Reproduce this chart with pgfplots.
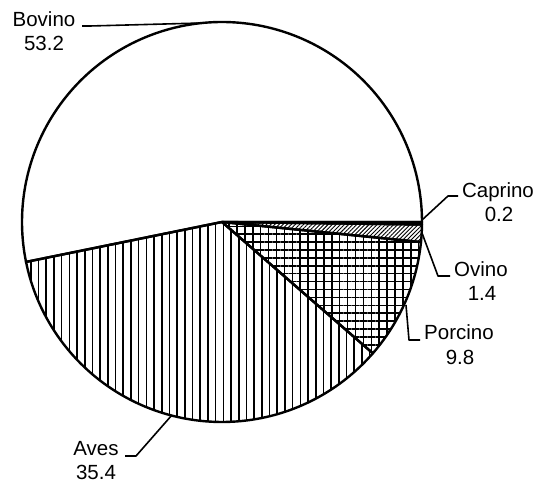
\documentclass[border=0pt]{standalone}
\usepackage{pgfplots}
\pgfplotsset{compat=1.18}
\usepackage{fontspec}
\setmainfont{Liberation Sans}
\usetikzlibrary{patterns.meta}
\begin{document}
\begin{tikzpicture}[
  lab/.style={font=\fontsize{20.5}{24}\selectfont,anchor=base,inner sep=0pt},
  lead/.style={line width=1.6pt,draw=black}]
% data (percent)
\pgfmathsetmacro{\vBov}{53.2}
\pgfmathsetmacro{\vAve}{35.4}
\pgfmathsetmacro{\vPor}{9.8}
\pgfmathsetmacro{\vOvi}{1.4}
\pgfmathsetmacro{\vCap}{0.2}
% cumulative angles
\pgfmathsetmacro{\aA}{0}
\pgfmathsetmacro{\aB}{\aA+3.6*\vBov}
\pgfmathsetmacro{\aC}{\aB+3.6*\vAve}
\pgfmathsetmacro{\aD}{\aC+3.6*\vPor}
\pgfmathsetmacro{\aE}{\aD+3.6*\vOvi}
\pgfmathsetmacro{\aF}{\aE+3.6*\vCap}
\begin{axis}[x=200pt,y=200pt,xmin=-1.11,xmax=1.585,ymin=-1.325,ymax=1.11,
  hide axis,clip=false,
  every axis plot/.append style={line width=2.4pt,line join=round}]
\path (rel axis cs:0,0) rectangle (rel axis cs:1,1);
\addplot[draw=black,fill=white,domain=\aA:\aB,samples=150] ({cos(x)},{sin(x)}) -- (axis cs:0,0) -- cycle;
\addplot[draw=black,pattern={Lines[angle=90,distance=7.7pt,line width=1.6pt]},domain=\aB:\aC,samples=110] ({cos(x)},{sin(x)}) -- (axis cs:0,0) -- cycle;
\addplot[draw=black,pattern={Hatch[angle=0,distance=7.9pt,line width=1.5pt]},domain=\aC:\aD,samples=40] ({cos(x)},{sin(x)}) -- (axis cs:0,0) -- cycle;
\addplot[draw=black,pattern={Lines[angle=45,distance=2.9pt,line width=0.9pt]},domain=\aD:\aE,samples=10] ({cos(x)},{sin(x)}) -- (axis cs:0,0) -- cycle;
\addplot[draw=black,fill=black,domain=\aE:\aF,samples=3] ({cos(x)},{sin(x)}) -- (axis cs:0,0) -- cycle;
% leader lines
\addplot[lead] coordinates {(-0.70,0.98) (-0.66,0.98) (-0.10,0.995)};
\addplot[lead] coordinates {(1.18,0.13) (1.13,0.13) (1.0,0.01)};
\addplot[lead] coordinates {(1.14,-0.27) (1.08,-0.27) (1.0,-0.055)};
\addplot[lead] coordinates {(0.99,-0.59) (0.935,-0.59) (0.92,-0.415)};
\addplot[lead] coordinates {(-0.485,-1.17) (-0.43,-1.17) (-0.25,-0.965)};
% labels
\node[lab] at (axis cs:-0.89,0.9765) {Bovino};
\node[lab] at (axis cs:-0.89,0.8585) {53.2};
\node[lab] at (axis cs:1.38,0.12) {Caprino};
\node[lab] at (axis cs:1.385,0.0) {0.2};
\node[lab] at (axis cs:1.295,-0.275) {Ovino};
\node[lab] at (axis cs:1.30,-0.395) {1.4};
\node[lab] at (axis cs:1.185,-0.59) {Porcino};
\node[lab] at (axis cs:1.19,-0.715) {9.8};
\node[lab] at (axis cs:-0.63,-1.17) {Aves};
\node[lab] at (axis cs:-0.63,-1.29) {35.4};
\end{axis}
\end{tikzpicture}
\end{document}
